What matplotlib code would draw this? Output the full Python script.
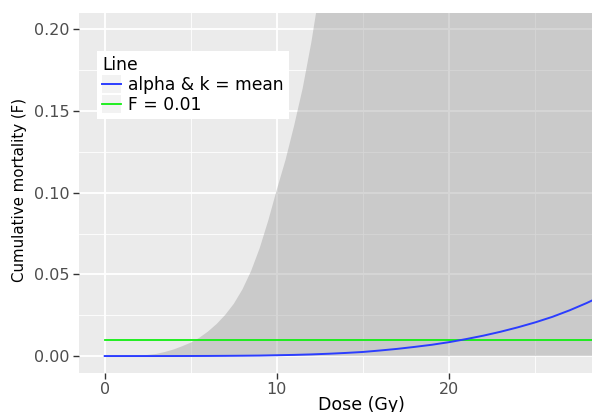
import numpy as np
import matplotlib
matplotlib.use("Agg")
import matplotlib.pyplot as plt
from matplotlib.legend_handler import HandlerLine2D
from matplotlib.patches import Rectangle
from matplotlib.ticker import MultipleLocator, FixedLocator

# =========================
# Dados
# =========================
dose = [0, 1, 2, 3, 4, 5, 6, 7, 8, 9, 10, 11, 12, 13, 14, 15,
        16, 17, 18, 19, 20, 21, 22, 23, 24, 25, 26, 27, 28, 29, 30]

# curva com alpha & k = media
f_mean = [0.0, 0.0, 0.0, 0.0, 0.00001, 0.00003, 0.00006, 0.00012, 0.0002,
          0.0003, 0.0005, 0.0007, 0.0010, 0.0014, 0.0019, 0.0025, 0.0034,
          0.0044, 0.0056, 0.0069, 0.0085, 0.0104, 0.0125, 0.0149, 0.0176,
          0.0206, 0.0240, 0.0280, 0.0325, 0.0375, 0.0430]

# faixa: limite superior (limite inferior = 0)
band_dose = [0, 0.5, 1, 1.5, 2, 2.5, 3, 3.5, 4, 4.5, 5, 5.5, 6, 6.5, 7, 7.5,
             8, 8.5, 9, 9.5, 10, 10.5, 11, 11.5, 12, 12.5, 13, 14, 15, 16,
             18, 20, 25, 30]
band_upper = [0.0, 0.0, 0.0, 0.0001, 0.0003, 0.0007, 0.0013, 0.0025, 0.0040,
              0.0060, 0.0082, 0.0112, 0.0150, 0.0196, 0.0252, 0.0320, 0.0408,
              0.052, 0.066, 0.083, 0.102, 0.120, 0.141, 0.164, 0.192, 0.225,
              0.27, 0.36, 0.47, 0.58, 0.77, 0.89, 0.99, 1.0]

f_threshold = 0.01

x_ticks = [0, 10, 20]
labels = ["alpha & k = mean", "F = 0.01"]
colors = ["#2b3dff", "#11ee11"]


# chave da legenda com fundo cinza (estilo ggplot)
class KeyHandler(HandlerLine2D):
    def create_artists(self, legend, orig_handle, xdescent, ydescent,
                       width, height, fontsize, trans):
        bg = Rectangle((-xdescent, -ydescent - 2), width, height + 4,
                       facecolor="#f2f2f2", edgecolor="none", transform=trans)
        arts = super().create_artists(legend, orig_handle, xdescent, ydescent,
                                      width, height, fontsize, trans)
        return [bg] + list(arts)


plt.rcParams["font.family"] = ["DejaVu Sans"]

fig = plt.figure(figsize=(5.92, 4.12), dpi=100)
ax = fig.add_axes([79 / 592, 39.3 / 412, 564.7 / 592, 359.9 / 412])
ax.set_facecolor("#ebebeb")

ax.fill_between(band_dose, 0, band_upper, color="#999999", alpha=0.4, lw=0,
                zorder=2)
l1, = ax.plot(dose, f_mean, color=colors[0], lw=1.4, zorder=4)
l2 = ax.axhline(f_threshold, xmin=(0 + 1.492) / 32.79, color=colors[1],
                lw=1.3, zorder=3)

ax.set_xlim(-1.492, 31.30)
ax.set_ylim(-0.0102, 0.2101)

ax.xaxis.set_major_locator(FixedLocator(x_ticks))
ax.xaxis.set_minor_locator(MultipleLocator(5))
ax.yaxis.set_major_locator(MultipleLocator(0.05))
ax.yaxis.set_minor_locator(MultipleLocator(0.025))
ax.yaxis.set_major_formatter(matplotlib.ticker.FormatStrFormatter("%.2f"))

ax.grid(which="major", color="white", lw=1.3, zorder=1)
ax.grid(which="minor", color="white", lw=0.6, zorder=1)
ax.axvline(30, color="white", lw=1.3, zorder=1)
ax.set_axisbelow(True)
for s in ax.spines.values():
    s.set_visible(False)

ax.tick_params(which="major", length=4, width=1, color="#333333",
               labelcolor="#4d4d4d", labelsize=11.5, pad=3)
ax.tick_params(which="minor", length=0)

fig.text(361 / 592, 2.5 / 412, "Dose (Gy)", fontsize=12.5, color="black",
         ha="center", va="baseline")
fig.text(20 / 592, 1 - 190 / 412, "Cumulative mortality (F)", fontsize=10.8,
         color="black", rotation=90, ha="center", va="center")

leg = ax.legend([l1, l2], labels, title="Line", loc="upper left",
                bbox_to_anchor=(97 / 592, 1 - 51 / 412),
                bbox_transform=fig.transFigure, frameon=True, fancybox=False,
                framealpha=1, edgecolor="none", facecolor="white",
                fontsize=12.3, title_fontsize=12.3, handlelength=1.1,
                handletextpad=0.4, labelspacing=0.12, borderpad=0.3,
                borderaxespad=0, alignment="left",
                handler_map={matplotlib.lines.Line2D: KeyHandler()})

fig.savefig("out.png", dpi=100)
